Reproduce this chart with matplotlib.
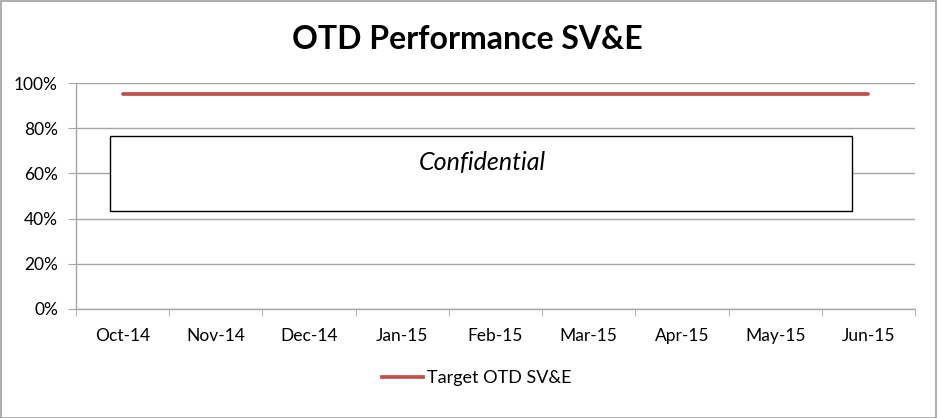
import matplotlib
matplotlib.use("Agg")
import matplotlib.pyplot as plt
from matplotlib.patches import Rectangle
from matplotlib.lines import Line2D

months = ["Oct-14", "Nov-14", "Dec-14", "Jan-15", "Feb-15", "Mar-15", "Apr-15", "May-15", "Jun-15"]
target = [0.95, 0.95, 0.95, 0.95, 0.95, 0.95, 0.95, 0.95, 0.95]
yticks = [0, 0.2, 0.4, 0.6, 0.8, 1.0]
ytick_labels = ["0%", "20%", "40%", "60%", "80%", "100%"]

plt.rcParams['font.family'] = ['Lato', 'DejaVu Sans']

fig = plt.figure(figsize=(9.38, 4.18), dpi=100)
fig.patch.set_facecolor("white")
ax = fig.add_axes([0.081, 0.2608, 0.8945, 0.5406])

x = list(range(len(months)))
red = "#C0504D"
grid = "#A6A6A6"
ax.plot(x, target, color=red, linewidth=2.7, solid_capstyle="round", zorder=3)

ax.set_xlim(-0.5, len(months) - 0.5)
ax.set_ylim(0, 1.0)
ax.set_yticks(yticks)
ax.set_yticklabels(ytick_labels, fontsize=12.5)
ax.set_xticks(x)
ax.set_xticklabels(months, fontsize=12.5)
ax.tick_params(axis="x", length=0, pad=14)
ax.set_xticks([i - 0.5 for i in range(len(months) + 1)], minor=True)
ax.tick_params(axis="x", which="minor", length=5, color=grid, direction="out")
ax.tick_params(axis="y", length=6, color=grid, pad=7)
ax.yaxis.grid(True, color=grid, linewidth=1.0)
ax.set_axisbelow(True)
for s in ["top", "right"]:
    ax.spines[s].set_visible(False)
for s in ["left", "bottom"]:
    ax.spines[s].set_color(grid)
    ax.spines[s].set_linewidth(1.0)

fig.text(0.498, 0.905, "OTD Performance SV&E", ha="center", va="center",
         fontsize=23, fontweight="bold")

# Confidential overlay box
fig.patches.append(Rectangle((0.1173, 0.4952), 0.791, 0.1794, transform=fig.transFigure,
                             facecolor="white", edgecolor="black", linewidth=1.0, zorder=10))
fig.text(0.514, 0.612, "Confidential", ha="center", va="center", fontsize=18,
         style="italic", zorder=11)

# Legend
handle = Line2D([0], [0], color=red, linewidth=2.7)
fig.legend([handle], ["Target OTD SV&E"], loc="center", bbox_to_anchor=(0.508, 0.095),
           frameon=False, fontsize=13, handlelength=2.3, handletextpad=0.2)

# Figure border
fig.patches.append(Rectangle((0.001, 0.001), 0.997, 0.997, transform=fig.transFigure,
                             facecolor="none", edgecolor="#A0A0A0", linewidth=1.2, zorder=0))

fig.savefig("out.png", dpi=100)
